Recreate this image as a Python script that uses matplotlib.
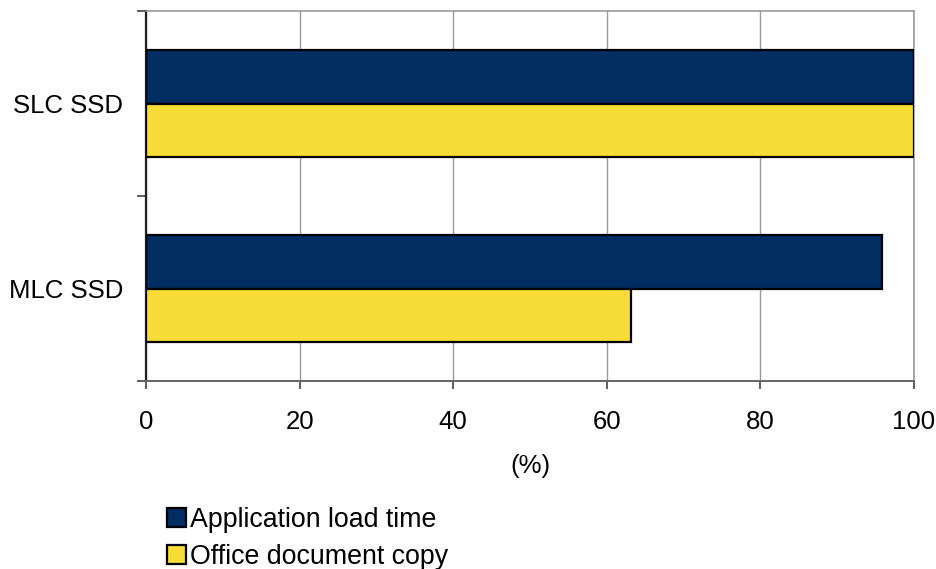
import matplotlib
matplotlib.use("Agg")
import matplotlib.pyplot as plt
from matplotlib.patches import Patch
import numpy as np

plt.rcParams['font.family'] = ['Liberation Sans', 'DejaVu Sans']

categories = ["MLC SSD", "SLC SSD"]
series_names = ["Application load time", "Office document copy"]
app_load = [95.8, 100.0]
office_copy = [63.1, 100.0]
x_ticks = [0, 20, 40, 60, 80, 100]

colors = ["#002D62", "#F7DD35"]
fs = 18.5

fig = plt.figure(figsize=(9.37, 5.69), dpi=100)
ax = fig.add_axes([146/937, 1-381/569, (914-146)/937, (381-11)/569])

pos = np.arange(len(categories))
h = 0.2865
ax.barh(pos + h/2, app_load, height=h, color=colors[0], edgecolor="black", linewidth=1.6, zorder=3)
ax.barh(pos - h/2, office_copy, height=h, color=colors[1], edgecolor="black", linewidth=1.6, zorder=3)

ax.set_xlim(0, 100)
ax.set_ylim(-0.5, len(categories) - 0.5)
ax.set_xticks(x_ticks)
ax.set_xticklabels([str(t) for t in x_ticks], fontsize=fs)
ax.grid(axis="x", color="#999999", linewidth=1, zorder=0)

ax.set_yticks(np.arange(-0.5, len(categories), 1.0))
ax.set_yticklabels([])
ax.set_yticks(pos, minor=True)
ax.set_yticklabels(categories, minor=True, fontsize=fs)
ax.tick_params(axis="y", which="minor", length=0, pad=16.5)
ax.tick_params(axis="y", which="major", length=6.5, width=1.2, color="#444444")
ax.tick_params(axis="x", length=6, width=1.2, color="#444444", pad=15)

for side in ["top", "right"]:
    ax.spines[side].set_color("#999999")
    ax.spines[side].set_linewidth(1.2)
ax.spines["bottom"].set_color("#666666")
ax.spines["bottom"].set_linewidth(1.4)
ax.spines["left"].set_color("#222222")
ax.spines["left"].set_linewidth(1.6)

ax.set_xlabel("(%)", fontsize=fs, labelpad=14)

handles = [Patch(facecolor=c, edgecolor="black", linewidth=1.6) for c in colors]
fig.legend(handles, series_names, loc="upper left", bbox_to_anchor=(167/937, 1-507/569),
           frameon=False, fontsize=19.3, handlelength=0.72, handleheight=0.72,
           handletextpad=0.15, labelspacing=0.42, borderaxespad=0, borderpad=0)

fig.savefig("out.png", dpi=100)
